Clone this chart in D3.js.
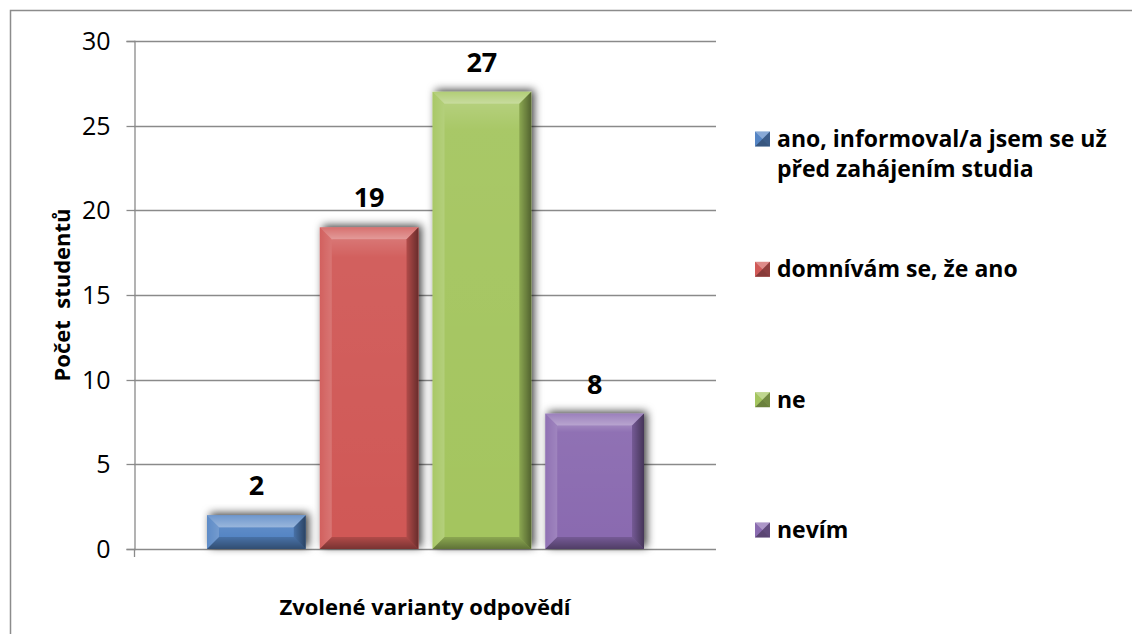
<!DOCTYPE html>
<html><head><meta charset="utf-8">
<script src="https://cdn.jsdelivr.net/npm/d3@7"></script>
<style>
html,body{margin:0;padding:0;background:#fff;}
svg{display:block;}
text{font-family:"Open Sans","Noto Sans",sans-serif;}
</style></head>
<body>
<svg id="c" width="1132" height="634"></svg>
<script>
const categories = ["ano, informoval/a jsem se už před zahájením studia","domnívám se, že ano","ne","nevím"];
const legendLines = [["ano, informoval/a jsem se už","před zahájením studia"],["domnívám se, že ano"],["ne"],["nevím"]];
const values = [2,19,27,8];
const colors = ["#5585c4","#d05957","#a4c55f","#8a6bb0"];
const yTicks = [0,5,10,15,20,25,30];
const yTitle = "Počet  studentů";
const xTitle = "Zvolené varianty odpovědí";

const svg = d3.select("#c");
const plot = {left:134, right:716, top:41, bottom:549};

// outer chart border
svg.append("rect").attr("x",10.5).attr("y",10.5).attr("width",1140).attr("height",640)
  .attr("fill","#fff").attr("stroke","#8c8c8c").attr("stroke-width",1.5);

const y = d3.scaleLinear().domain([0,30]).range([plot.bottom, plot.top]);
const x = d3.scaleBand().domain(categories).range([plot.left+73, plot.right-72]).paddingInner(0.124).paddingOuter(0);

const defs = svg.append("defs");
const f = defs.append("filter").attr("id","sh").attr("x","-30%").attr("y","-30%").attr("width","160%").attr("height","160%");
f.append("feDropShadow").attr("dx",3).attr("dy",-2).attr("stdDeviation",4.5).attr("flood-color","#000").attr("flood-opacity",0.75);

// bevel gradients
const mk = (id, x1,y1,x2,y2, stops) => {
  const g = defs.append("linearGradient").attr("id",id).attr("x1",x1).attr("y1",y1).attr("x2",x2).attr("y2",y2);
  stops.forEach(s=>g.append("stop").attr("offset",s[0]).attr("stop-color",s[1]).attr("stop-opacity",s[2]));
};
mk("gTop",0,0,0,1,[[0,"#fff",0.15],[1,"#fff",0.4]]);
mk("gBot",0,0,0,1,[[0,"#000",0.15],[1,"#000",0.42]]);
mk("gRight",0,0,1,0,[[0,"#000",0.15],[1,"#000",0.5]]);
mk("gLeft",0,0,1,0,[[0,"#fff",0.05],[1,"#fff",0.18]]);
mk("gFace",0,0,0,1,[[0,"#fff",0.18],[0.06,"#fff",0.05],[1,"#fff",0]]);

// gridlines
svg.append("g").selectAll("line").data(yTicks.filter(d=>d>0)).join("line")
  .attr("x1",plot.left).attr("x2",plot.right)
  .attr("y1",d=>Math.round(y(d))+0.5).attr("y2",d=>Math.round(y(d))+0.5)
  .attr("stroke","#8a8a8a").attr("stroke-width",1.3);

// y axis
const yAxis = d3.axisLeft(y).tickValues(yTicks).tickSize(8).tickPadding(16);
const ga = svg.append("g").attr("transform",`translate(${plot.left+0.5},0)`).call(yAxis);
ga.select(".domain").attr("stroke","#8a8a8a").attr("stroke-width",1.3);
ga.selectAll(".tick line").attr("stroke","#8a8a8a").attr("stroke-width",1.3);
ga.selectAll(".tick text").attr("font-size",25).attr("fill","#000").attr("font-family","'Open Sans',sans-serif");
ga.selectAll(".tick").attr("transform",d=>`translate(0,${Math.round(y(d))+0.5})`);

// x axis
svg.append("line").attr("x1",plot.left).attr("x2",plot.right)
  .attr("y1",plot.bottom+0.5).attr("y2",plot.bottom+0.5).attr("stroke","#8a8a8a").attr("stroke-width",1.3);
svg.append("line").attr("x1",plot.left+0.5).attr("x2",plot.left+0.5)
  .attr("y1",plot.bottom).attr("y2",plot.bottom+8).attr("stroke","#8a8a8a").attr("stroke-width",1.3);

// bars
const bev = 12;
const bars = svg.append("g").selectAll("g").data(values).join("g");
bars.each(function(v,i){
  const g = d3.select(this);
  const x0 = x(categories[i]), w = x.bandwidth();
  const y0 = y(v), y1 = y(0);
  const h = y1 - y0;
  const b = Math.min(bev, h/2, w/2);
  g.append("rect").attr("x",x0).attr("y",y0).attr("width",w).attr("height",h)
    .attr("fill",colors[i]).attr("filter","url(#sh)");
  const X1 = x0, X2 = x0+w, Y1 = y0, Y2 = y1;
  const poly = (pts, fill) => g.append("polygon").attr("points",pts.map(p=>p.join(",")).join(" ")).attr("fill",fill);
  g.append("rect").attr("x",X1+b).attr("y",Y1+b).attr("width",w-2*b).attr("height",h-2*b).attr("fill","url(#gFace)");
  poly([[X1,Y1],[X2,Y1],[X2-b,Y1+b],[X1+b,Y1+b]],"url(#gTop)");
  poly([[X1,Y1],[X1+b,Y1+b],[X1+b,Y2-b],[X1,Y2]],"url(#gLeft)");
  poly([[X2,Y1],[X2,Y2],[X2-b,Y2-b],[X2-b,Y1+b]],"url(#gRight)");
  poly([[X1,Y2],[X1+b,Y2-b],[X2-b,Y2-b],[X2,Y2]],"url(#gBot)");
  g.append("text").attr("x",x0+w/2).attr("y",y0-20).attr("text-anchor","middle")
    .attr("font-size",27).attr("font-weight","bold").attr("fill","#000").text(v);
});

// axis titles
svg.append("text").attr("transform",`translate(70,295) rotate(-90)`).attr("text-anchor","middle")
  .attr("font-size",22).attr("font-weight","bold").style("white-space","pre").text(yTitle);
svg.append("text").attr("x",(plot.left+plot.right)/2).attr("y",615).attr("text-anchor","middle")
  .attr("font-size",22).attr("font-weight","bold").text(xTitle);

// legend
const leg = svg.append("g");
const ly = d3.scaleLinear().domain([0,3]).range([139,530]);
legendLines.forEach((lines,i)=>{
  const cy = ly(i);
  const s = 15, lx = 755, ty = cy - s/2;
  const g = leg.append("g");
  g.append("rect").attr("x",lx).attr("y",ty).attr("width",s).attr("height",s).attr("fill",colors[i]);
  const c = [lx+s/2, ty+s/2];
  g.append("polygon").attr("points",[[lx,ty],[lx+s,ty],c].join(" ")).attr("fill","#fff").attr("opacity",0.3);
  g.append("polygon").attr("points",[[lx+s,ty],[lx+s,ty+s],c].join(" ")).attr("fill","#000").attr("opacity",0.3);
  g.append("polygon").attr("points",[[lx,ty+s],[lx+s,ty+s],c].join(" ")).attr("fill","#000").attr("opacity",0.35);
  lines.forEach((ln,j)=>{
    g.append("text").attr("x",777).attr("y",cy+8+j*30).attr("font-size",23).attr("font-weight","bold").attr("fill","#000").text(ln);
  });
});
</script>
</body></html>
